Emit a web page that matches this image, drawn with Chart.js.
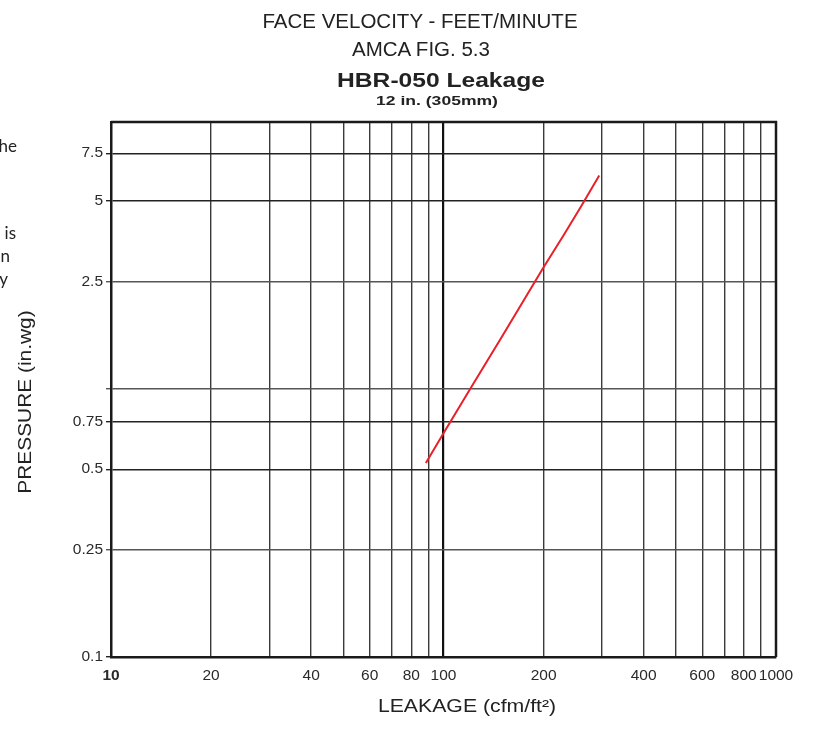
<!DOCTYPE html>
<html>
<head>
<meta charset="utf-8">
<title>HBR-050 Leakage</title>
<script src="https://cdn.jsdelivr.net/npm/chart.js@4.4.1/dist/chart.umd.min.js"></script>
<style>
  html, body { margin: 0; padding: 0; background: #fff; overflow: hidden; }
  #wrap { position: relative; width: 818px; height: 744px; font-family: 'Liberation Sans', Arial, sans-serif; color: #222; }
  #wrap canvas { position: absolute; left: 0; top: 0; }
  .txt { position: absolute; white-space: nowrap; line-height: 1; transform: translate(-50%, -50%); }
  .frag { position: absolute; left: -40px; width: 57px; text-align: right; font-family: Lato, sans-serif; font-size: 17px; line-height: 1; color: #222; }
</style>
</head>
<body>
<div id="wrap">
  <canvas id="chart" width="818" height="744"></canvas>

  <!-- clipped text from the page to the left of the chart -->
  <div class="frag" style="top:137px;">he</div>
  <div class="frag" style="top:224px; width:56px;">is</div>
  <div class="frag" style="top:247px; width:50px;">n</div>
  <div class="frag" style="top:270px; width:48px;">y</div>

  <div class="txt" style="left:420px; top:21px; font-size:20.5px;">FACE VELOCITY - FEET/MINUTE</div>
  <div class="txt" style="left:421px; top:49px; font-size:20.5px;">AMCA FIG. 5.3</div>
  <div class="txt" style="left:441px; top:80px; font-size:20px; font-weight:bold; transform: translate(-50%, -50%) scaleX(1.23);">HBR-050 Leakage</div>
  <div class="txt" style="left:437px; top:101px; font-size:13.5px; font-weight:bold; transform: translate(-50%, -50%) scaleX(1.3);">12 in. (305mm)</div>

  <div class="txt" style="left:467px; top:706px; font-size:18px; transform: translate(-50%, -50%) scaleX(1.18);">LEAKAGE (cfm/ft²)</div>
  <div class="txt" style="left:25px; top:402px; font-size:18px; transform: translate(-50%, -50%) rotate(-90deg) scaleX(1.16);">PRESSURE (in.wg)</div>
</div>

<script>
// --- data ---
const leakage = [88.5, 100, 120, 150, 200, 230, 260, 294];        // cfm/ft²
const pressure = [0.527, 0.68, 0.99, 1.56, 2.82, 3.72, 4.78, 6.2]; // in.wg

// grid / tick positions
const xTicks = [10, 20, 30, 40, 50, 60, 70, 80, 90, 100, 200, 300, 400, 500, 600, 700, 800, 900, 1000];
const xLabels = [10, 20, 40, 60, 80, 100, 200, 400, 600, 800, 1000];
const yTicks = [0.1, 0.25, 0.5, 0.75, 1, 2.5, 5, 7.5];
const yLabels = [0.1, 0.25, 0.5, 0.75, 2.5, 5, 7.5];

// thin frame round the plot area (top and right edges)
const framePlugin = {
  id: 'frame',
  beforeDatasetsDraw(chart) {
    const { ctx, chartArea: a } = chart;
    ctx.save();
    ctx.strokeStyle = '#1a1a1a';
    ctx.lineWidth = 2.5;
    ctx.beginPath();
    ctx.moveTo(a.left, a.top);
    ctx.lineTo(a.right, a.top);
    ctx.lineTo(a.right, a.bottom);
    ctx.stroke();
    ctx.restore();
  }
};

const ctx = document.getElementById('chart').getContext('2d');
new Chart(ctx, {
  type: 'line',
  data: {
    datasets: [{
      label: 'HBR-050',
      data: leakage.map((x, i) => ({ x, y: pressure[i] })),
      borderColor: '#e8202a',
      borderWidth: 2,
      pointRadius: 0,
      tension: 0,
      fill: false
    }]
  },
  options: {
    responsive: false,
    animation: false,
    layout: { padding: { left: 0, right: 42, top: 122, bottom: 0 } },
    plugins: { legend: { display: false }, tooltip: { enabled: false } },
    scales: {
      x: {
        type: 'logarithmic',
        min: 10,
        max: 1000,
        afterFit: s => { s.height = 87; },
        afterBuildTicks: s => { s.ticks = xTicks.map(v => ({ value: v })); },
        ticks: {
          autoSkip: false,
          maxRotation: 0,
          padding: 9,
          color: '#2a2a2a',
          font: c => ({ family: 'Liberation Sans', size: 15.5, weight: c.tick && c.tick.value === 10 ? 'bold' : 'normal' }),
          callback: v => xLabels.includes(v) ? String(v) : ''
        },
        grid: {
          drawTicks: false,
          color: c => c.tick && c.tick.value === 100 ? '#111' : '#3a3a3a',
          lineWidth: c => c.tick && c.tick.value === 100 ? 2.2 : 1.4
        },
        border: { color: '#1a1a1a', width: 2.5 }
      },
      y: {
        type: 'logarithmic',
        min: 0.1,
        max: 9.8,
        afterFit: s => { s.width = 111; },
        afterBuildTicks: s => { s.ticks = yTicks.map(v => ({ value: v })); },
        ticks: {
          autoSkip: false,
          padding: 3,
          color: '#2a2a2a',
          font: { family: 'Liberation Sans', size: 15.5 },
          callback: v => yLabels.includes(v) ? String(v) : ''
        },
        grid: {
          drawTicks: true,
          tickLength: 5,
          color: c => [1, 2.5, 0.25].includes(c.tick && c.tick.value) ? '#555' : '#222',
          lineWidth: 1.4
        },
        border: { color: '#1a1a1a', width: 2.5 }
      }
    }
  },
  plugins: [framePlugin]
});
</script>
</body>
</html>
